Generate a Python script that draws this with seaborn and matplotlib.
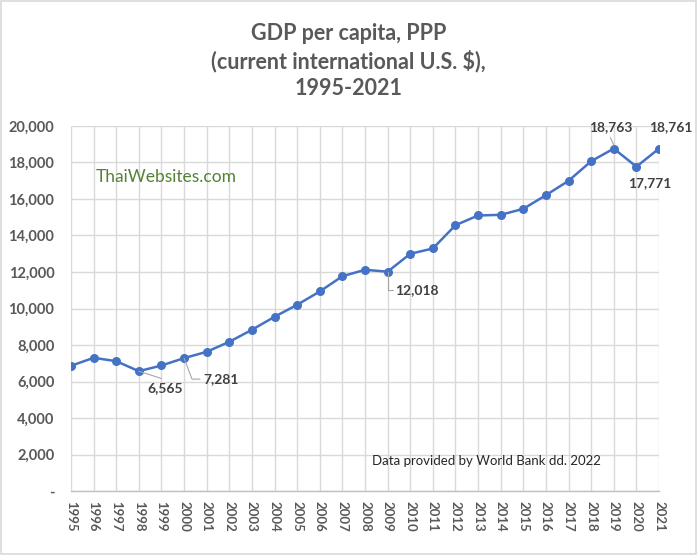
import matplotlib
matplotlib.use("Agg")
import matplotlib.pyplot as plt
import seaborn as sns
import pandas as pd
from matplotlib.patches import Rectangle

years = list(range(1995, 2022))
gdp_pc = [6860, 7299, 7113, 6565, 6877, 7281, 7627, 8175, 8833, 9545,
          10203, 10932, 11770, 12120, 12018, 12997, 13288, 14564, 15096, 15132,
          15462, 16208, 16996, 18071, 18763, 17771, 18761]
y_ticks = list(range(0, 20001, 2000))
y_labels = ["-" if v == 0 else f"{v:,}" for v in y_ticks]
title = "GDP per capita, PPP\n(current international U.S. $),\n1995-2021"
labeled_years = [1998, 2000, 2009, 2019, 2020, 2021]

df = pd.DataFrame({"year": years, "gdp": gdp_pc})

sns.set_theme(style="white")
plt.rcParams["font.family"] = ["Lato", "DejaVu Sans"]

fig = plt.figure(figsize=(6.97, 5.55), dpi=100)
ax = fig.add_axes([71/697, 1-491/555, (659-71)/697, (491-126)/555])

sns.lineplot(data=df, x="year", y="gdp", ax=ax, color="#4472C4", linewidth=1.8,
             marker="o", markersize=6.5, markeredgewidth=0, markerfacecolor="#4472C4")

ax.set_xlim(1995, 2021)
ax.set_ylim(0, 20000)
ax.set_xticks(years)
ax.set_xticklabels([str(y) for y in years], rotation=-90, fontsize=9.5,
                   color="#595959", fontweight="bold")
ax.set_yticks(y_ticks)
ax.set_yticklabels(y_labels, fontsize=10.5, color="#595959", fontweight="bold")
ax.tick_params(axis="both", length=0, pad=7)
ax.tick_params(axis="y", pad=12)
ax.set_xlabel("")
ax.set_ylabel("")
ax.grid(True, color="#D9D9D9", linewidth=1)
ax.set_axisbelow(True)
for s in ["top", "right", "left"]:
    ax.spines[s].set_visible(False)
ax.spines["bottom"].set_color("#BFBFBF")
ax.spines["bottom"].set_linewidth(1)

fig.text(0.5, 1-61/555, title, ha="center", va="center", fontsize=15.5,
         fontweight="bold", color="#595959", linespacing=1.3)

ax.text(1996.1, 17200, "ThaiWebsites.com", fontsize=12.5, color="#548235",
        ha="left", va="center")
ax.text(2008.3, 1650, "Data provided by World Bank dd. 2022", fontsize=9.5,
        color="#262626", ha="left", va="center")

vals = dict(zip(years, gdp_pc))
lc = "#A6A6A6"
lab_kw = dict(fontsize=10, color="#404040", fontweight="bold")

# 1998
v = vals[1998]
ax.plot([1998, 1999.0], [v, v - 400], color=lc, lw=0.8)
ax.text(1999.15, v - 950, f"{v:,}", ha="center", va="center", **lab_kw)
# 2000
v = vals[2000]
ax.plot([2000, 2000.35, 2000.7], [v, v - 1150, v - 1150], color=lc, lw=0.8)
ax.text(2000.85, v - 1150, f"{v:,}", ha="left", va="center", **lab_kw)
# 2009
v = vals[2009]
ax.plot([2009, 2009, 2009.25], [v, v - 1020, v - 1020], color=lc, lw=0.8)
ax.text(2009.35, v - 1020, f"{v:,}", ha="left", va="center", **lab_kw)
# 2019
v = vals[2019]
ax.plot([2019, 2018.85], [v + 200, v + 600], color=lc, lw=0.8)
ax.text(2018.85, v + 1200, f"{v:,}", ha="center", va="center", **lab_kw)
# 2020
v = vals[2020]
ax.text(2020.6, v - 900, f"{v:,}", ha="center", va="center", **lab_kw)
# 2021
v = vals[2021]
ax.plot([2021.05, 2021.35], [v + 200, v + 650], color=lc, lw=0.8)
ax.text(2021.5, v + 1200, f"{v:,}", ha="center", va="center", clip_on=False, **lab_kw)

fig.patches.append(Rectangle((0.001, 0.001), 0.997, 0.997, transform=fig.transFigure,
                             fill=False, edgecolor="#D9D9D9", linewidth=1.2))

fig.savefig("out.png", dpi=100)
